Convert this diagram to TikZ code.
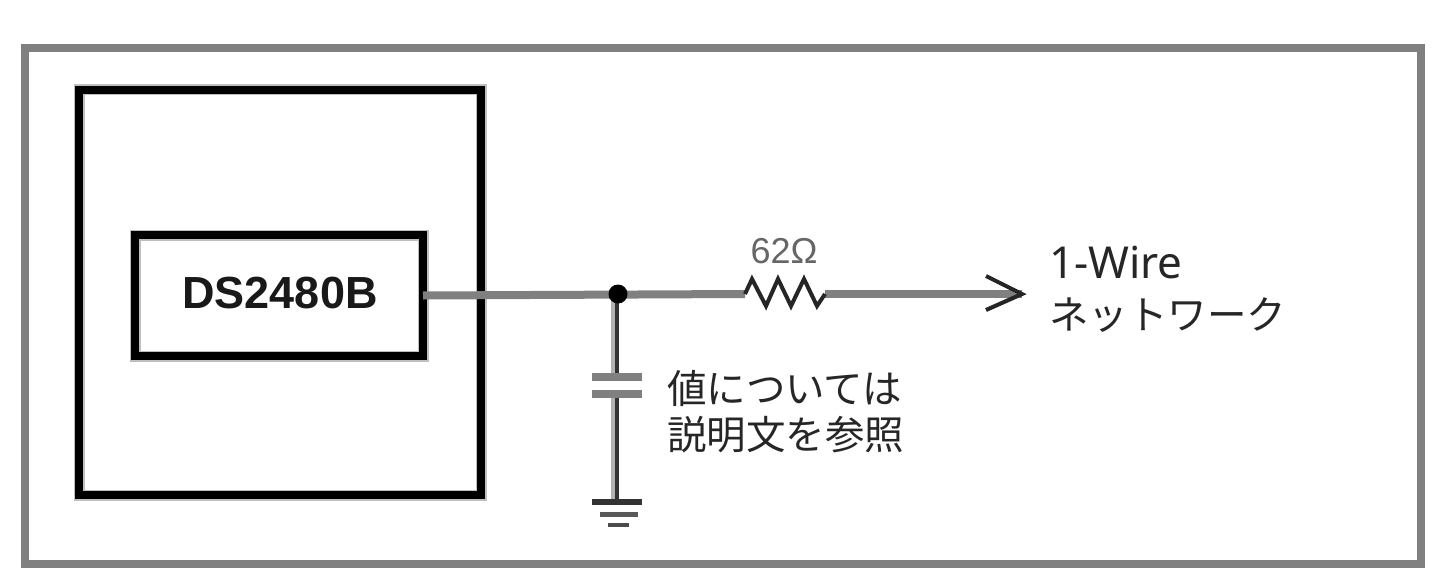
\documentclass[tikz,border=0pt]{standalone}
\usepackage{fontspec}
\setmainfont{Noto Sans}
\setsansfont{Liberation Sans}
\newfontfamily\cjk{Noto Sans CJK JP}
\usepackage{tikz}
\tikzstyle{frame}=[draw=black!50, line width=8pt, inner sep=0pt, outer sep=0pt]
\tikzstyle{box}=[draw=black, line width=8pt, inner sep=0pt, outer sep=0pt,
                    preaction={draw=black!25, line width=11pt}]
\tikzstyle{lead}=[black!50, line width=8pt]
\tikzstyle{vlead}=[black!30, line width=8pt,
                    postaction={draw=black!80, line width=4pt,
                    transform canvas={xshift=2pt}}]
\tikzstyle{thin}=[black!85, line width=4pt]
\tikzstyle{plate}=[black!50, line width=8pt]
\tikzstyle{dot}=[circle, inner sep=0pt, minimum size=19pt, fill=black]
\tikzstyle{label}=[inner sep=0pt, outer sep=0pt, text=black!85, align=left,
                    anchor=north west]

\begin{document}
\begin{tikzpicture}[x=1pt, y=-1pt]
    \useasboundingbox (0,0) rectangle (1444,586);
    \fill[white] (0,0) rectangle (1444,586);
    \node[frame, minimum width=1396pt, minimum height=516pt] (outer) at (723,306) {};
    \node[box, minimum width=402pt, minimum height=405pt] (pkg) at (280,292.5) {};
    \node[box, minimum width=288pt, minimum height=121pt] (chip) at (279,295.5) {};
    \node[inner sep=0pt, text=black!90, font=\fontsize{45}{45}\selectfont\sffamily\bfseries]
        (name) at (280,293) {DS2480B};

    \coordinate (jc) at (618,294);
    \coordinate (r1) at (745,294);
    \coordinate (r2) at (825,294);
    \coordinate (tip) at (1022,294);
    \coordinate (a1) at (986,276);
    \coordinate (a2) at (986,310);
    \coordinate (c1) at (615,377);
    \coordinate (c2) at (615,394);
    \coordinate (g1) at (615,502);
    \coordinate (j1) at (615,294);
    \coordinate (cl1) at (592,377);
    \coordinate (cr1) at (642,377);
    \coordinate (cl2) at (592,394);
    \coordinate (cr2) at (642,394);
    \coordinate (gl1) at (592,502);
    \coordinate (gr1) at (642,502);
    \coordinate (gl2) at (600,514);
    \coordinate (gr2) at (638,514);
    \coordinate (gl3) at (608,525);
    \coordinate (gr3) at (629,525);

    \draw[lead] (chip.east) -- (r1);
    \draw[lead] (r2) -- (tip);
    \draw[vlead] (j1) -- (c1);
    \draw[vlead] (c2) -- (g1);
    \node[dot] (j) at (jc) {};
    \draw[thin, line join=miter] (r1) -- (752,279) -- (766,306) -- (778,279)
        -- (791,306) -- (804,279) -- (817,306) -- (r2);
    \draw[thin, line join=miter] (a1) -- (tip) -- (a2);
    \foreach \from/\to in {cl1/cr1, cl2/cr2}
      \draw[plate] (\from) -- (\to);
    \draw[black!80, line width=6pt] (gl1) -- (gr1);
    \draw[black!65, line width=5pt] (gl2) -- (gr2);
    \draw[black!70, line width=4pt] (gl3) -- (gr3);

    \node[inner sep=0pt, text=black!60, font=\fontsize{36}{36}\selectfont\sffamily]
        (val) at (784,251) {62Ω};
    \node[label, font=\fontsize{44}{44}\selectfont] (wire) at (1049,246) {1-Wire};
    \node[label, font=\fontsize{39.5}{39.5}\selectfont\cjk, anchor=west] (net) at (1049,315)
        {ネットワーク};
    \node[label, font=\fontsize{39.5}{46}\selectfont\cjk, anchor=west] (note) at (667,412)
        {値については\\説明文を参照};
\end{tikzpicture}
\end{document}
